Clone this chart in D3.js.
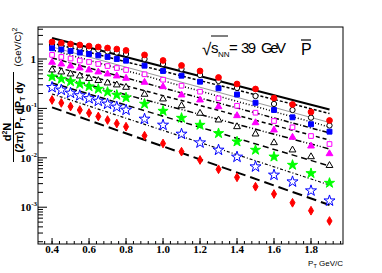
<!DOCTYPE html>
<html><head><meta charset="utf-8">
<script src="https://cdn.jsdelivr.net/npm/d3@7"></script>
<style>body{margin:0;background:#fff}svg{display:block}</style>
</head><body><svg id="c" width="382" height="273"></svg>
<script>
// ---- data ----
const ptValues = [0.4,0.45,0.5,0.55,0.6,0.65,0.7,0.75,0.8,0.9,1.0,1.1,1.2,1.3,1.4,1.5,1.6,1.7,1.8,1.9];
const redCircles   = [2.21,2.11,2.01,1.92,1.83,1.75,1.67,1.59,1.49,1.21,0.932,0.739,0.572,0.422,0.312,0.247,0.162,0.120,0.0846,0.0569];
const openCircles  = [1.92,1.83,1.75,1.67,1.59,1.52,1.42,1.35,1.26,1.0,0.792,0.627,0.474,0.359,0.259,0.178,0.123,0.0928,0.0648,0.0451];
const blueSquares  = [1.65,1.56,1.45,1.35,1.26,1.18,1.10,1.0,0.924,0.732,0.572,0.459,0.347,0.255,0.191,0.130,0.0928,0.0660,0.0477,0.0338];
const magSquares   = [1.21,1.10,1.02,0.932,0.870,0.792,0.721,0.657,0.599,0.490,0.381,0.288,0.218,0.160,0.113,0.0818,0.0556,0.0414,0.0276,0.0190];
const magTriangles = [0.857,0.792,0.721,0.657,0.599,0.546,0.497,0.453,0.407,0.338,0.275,0.187,0.148,0.108,0.0712,0.0513,0.0365,0.0260,0.0173,0.0121];
const openTriangles= [0.599,0.546,0.497,0.453,0.403,0.367,0.327,0.298,0.267,0.193,0.155,0.113,0.0796,0.0582,0.0426,0.0303,0.0202,0.0144,0.0105,0.00698];
const greenStars   = [0.438,0.394,0.350,0.312,0.277,0.247,0.215,0.187,0.165,0.123,0.0886,0.0639,0.0461,0.0313,0.0212,0.0144,0.0105,0.00715,0.00486,0.00309];
const blueStars    = [0.267,0.236,0.205,0.182,0.159,0.141,0.123,0.107,0.0928,0.0610,0.0461,0.0303,0.0202,0.0144,0.0104,0.00661,0.00449,0.00328,0.00216,0.00135];
const redDiamonds  = [0.148,0.129,0.109,0.0928,0.0807,0.0686,0.0582,0.0494,0.0426,0.0280,0.0195,0.0133,0.00903,0.00585,0.00403,0.00260,0.00185,0.00123,0.000849,0.000526];

// fit lines: value at pT start and end
const fitRange = [0.4, 1.9];
const fitStart = [2.66,2.11,1.75,1.52,1.05,0.721,0.474,0.327,0.196,0.105];
const fitEnd   = [0.0950,0.0788,0.0518,0.0420,0.0318,0.0229,0.0151,0.00682,0.00281,0.00111];

const xTicks = [0.4,0.6,0.8,1.0,1.2,1.4,1.6,1.8];
const xTickLabels = ["0.4","0.6","0.8","1.0","1.2","1.4","1.6","1.8"];
const yDecades = [1e-3,1e-2,1e-1,1];
const yDecadeExps = ["-3","-2","-1",""];

// ---- layout ----
const L=38,R=343,T=27,B=244;
const svg=d3.select("#c");
const x=d3.scaleLinear().domain([0.324,1.973]).range([L,R]);
const y=d3.scaleLog().domain([1.8e-4,4.44]).range([B,T]);

// frame
svg.append("rect").attr("x",L).attr("y",T).attr("width",R-L).attr("height",B-T)
  .attr("fill","none").attr("stroke","#000").attr("stroke-width",1);

// x ticks (inside, pointing up)
const xMinor=d3.range(0.36,1.97,0.04);
svg.append("g").selectAll("line").data(xMinor).join("line")
  .attr("x1",d=>x(d)).attr("x2",d=>x(d)).attr("y1",B).attr("y2",B-3).attr("stroke","#000");
svg.append("g").selectAll("line").data(xTicks).join("line")
  .attr("x1",d=>x(d)).attr("x2",d=>x(d)).attr("y1",B).attr("y2",B-6).attr("stroke","#000");
svg.append("g").selectAll("text").data(xTicks).join("text")
  .attr("x",d=>x(d)).attr("y",253).attr("text-anchor","middle")
  .attr("font-family","Liberation Serif").attr("font-weight","bold").attr("font-size",11)
  .text((d,i)=>xTickLabels[i]);

// y ticks (log)
const yMinor=[];
[1e-4,1e-3,1e-2,1e-1,1].forEach(dec=>{for(let k=2;k<=9;k++){const v=dec*k; if(v>=1.8e-4&&v<=4.44) yMinor.push(v);}});
svg.append("g").selectAll("line").data(yMinor).join("line")
  .attr("x1",L).attr("x2",L+5).attr("y1",d=>y(d)).attr("y2",d=>y(d)).attr("stroke","#000");
svg.append("g").selectAll("line").data(yDecades).join("line")
  .attr("x1",L).attr("x2",L+9).attr("y1",d=>y(d)).attr("y2",d=>y(d)).attr("stroke","#000");
const yl=svg.append("g").selectAll("text").data(yDecades).join("text")
  .attr("font-family","Liberation Serif").attr("font-weight","bold").attr("font-size",11)
  .attr("text-anchor","end");
yl.each(function(d,i){
  const t=d3.select(this);
  if(yDecadeExps[i]===""){ t.attr("x",36).attr("y",y(d)+4).text("1"); }
  else{
    t.attr("x",37).attr("y",y(d)+4);
    t.append("tspan").text("10");
    t.append("tspan").attr("font-size",7).attr("dy",-5).text(yDecadeExps[i]);
  }
});

// fit lines
const lineStyles=[
 {w:2,   dash:null,          c:"#000"},
 {w:1.5, dash:"3,2",         c:"#000"},
 {w:1,   dash:null,          c:"#999"},
 {w:1.5, dash:"1,2",         c:"#000"},
 {w:1.5, dash:"5,2,1,2",     c:"#000"},
 {w:1.5, dash:"4,3",         c:"#000"},
 {w:1.5, dash:"6,2,1,2,1,2", c:"#000"},
 {w:1.5, dash:"6,4",         c:"#000"},
 {w:1.2, dash:"3,2,1,2",     c:"#000"},
 {w:2,   dash:"10,5",        c:"#000"}
];
const lineGen=d3.line().x(d=>x(d[0])).y(d=>y(d[1]));
fitStart.forEach((s,i)=>{
  const st=lineStyles[i];
  svg.append("path").attr("d",lineGen([[fitRange[0],s],[fitRange[1],fitEnd[i]]]))
    .attr("fill","none").attr("stroke",st.c).attr("stroke-width",st.w)
    .attr("stroke-dasharray",st.dash);
});

// markers
const series=[
 {v:redDiamonds,  type:d3.symbolDiamond, size:22, fill:"#f00", stroke:"#f00"},
 {v:blueStars,    type:d3.symbolStar,    size:38, fill:"#fff", stroke:"#00f"},
 {v:greenStars,   type:d3.symbolStar,    size:32, fill:"#0f0", stroke:"#0f0"},
 {v:openTriangles,type:d3.symbolTriangle,size:20, fill:"#fff", stroke:"#000"},
 {v:magTriangles, type:d3.symbolTriangle,size:20, fill:"#f0f", stroke:"#f0f"},
 {v:magSquares,   type:d3.symbolSquare,  size:22, fill:"#fff", stroke:"#f0f"},
 {v:openCircles,  type:d3.symbolCircle,  size:22, fill:"#fff", stroke:"#000"},
 {v:blueSquares,  type:d3.symbolSquare,  size:24, fill:"#00f", stroke:"#00f"},
 {v:redCircles,   type:d3.symbolCircle,  size:26, fill:"#f00", stroke:"#f00"}
];
series.forEach(s=>{
  const sym=d3.symbol().type(s.type).size(s.size);
  svg.append("g").selectAll("path").data(ptValues.map((p,i)=>[p,s.v[i]])).join("path")
    .attr("d",sym).attr("transform",d=>`translate(${x(d[0])},${y(d[1])})`)
    .attr("fill",s.fill).attr("stroke",s.stroke).attr("stroke-width",1);
});

// annotation
const ann=svg.append("g").attr("font-family","Liberation Sans").attr("fill","#000");
ann.append("text").attr("x",202).attr("y",55).attr("font-size",17).text("\u221A");
ann.append("line").attr("x1",211).attr("x2",228).attr("y1",36).attr("y2",36).attr("stroke","#000").attr("stroke-width",1);
ann.append("text").attr("x",211).attr("y",53).attr("font-size",15).text("s");
ann.append("text").attr("x",218).attr("y",57).attr("font-size",8).text("NN");
ann.append("text").attr("x",229).attr("y",53).attr("font-size",15).text("=");
ann.append("text").attr("x",241).attr("y",53).attr("font-size",15).attr("textLength",15).text("39");
ann.append("text").attr("x",261).attr("y",53).attr("font-size",15).attr("textLength",25).text("GeV");
ann.append("text").attr("x",301).attr("y",55).attr("font-size",16).text("P");
ann.append("line").attr("x1",301).attr("x2",311).attr("y1",40).attr("y2",40).attr("stroke","#000").attr("stroke-width",1.2);

// y axis title (rotated)
const yt=svg.append("g").attr("font-family","Liberation Sans").attr("fill","#000");
yt.append("text").attr("transform","translate(11,132) rotate(-90)").attr("text-anchor","middle")
  .attr("font-size",11).attr("font-weight","bold")
  .html('d<tspan font-size="7" dy="-4">2</tspan><tspan dy="4">N</tspan>');
yt.append("line").attr("x1",13.5).attr("x2",13.5).attr("y1",72).attr("y2",162).attr("stroke","#000");
yt.append("text").attr("transform","translate(23,117) rotate(-90)").attr("text-anchor","middle")
  .attr("font-size",10.5).attr("font-weight","bold")
  .html('(2\u03C0) P<tspan font-size="7" dy="2">T</tspan><tspan dy="-2"> dP</tspan><tspan font-size="7" dy="2">T</tspan><tspan dy="-2"> dy</tspan>');
yt.append("text").attr("transform","translate(21,47) rotate(-90)").attr("text-anchor","middle")
  .attr("font-size",9.5)
  .html('(GeV/C)<tspan font-size="7" dy="-4">2</tspan>');

// x axis title
svg.append("text").attr("x",343).attr("y",266).attr("text-anchor","end")
  .attr("font-family","Liberation Sans").attr("font-size",8)
  .html('P<tspan font-size="5.5" dy="2">T</tspan><tspan dy="-2"> GeV/C</tspan>');
</script></body></html>
